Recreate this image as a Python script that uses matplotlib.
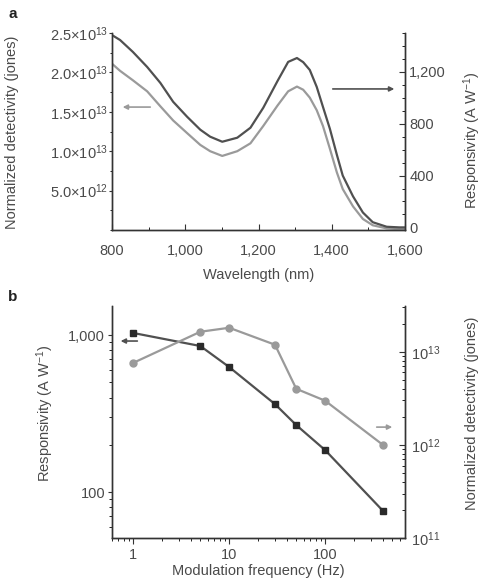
import matplotlib
matplotlib.use("Agg")
import matplotlib.pyplot as plt
from matplotlib.ticker import FixedLocator, MultipleLocator, NullFormatter, LogLocator, FixedFormatter

plt.rcParams['font.family'] = ['Liberation Sans', 'DejaVu Sans']
plt.rcParams['mathtext.fontset'] = 'custom'
plt.rcParams['mathtext.rm'] = 'Liberation Sans'
plt.rcParams['mathtext.it'] = 'Liberation Sans'

# ---- Panel a data ----
wavelength = [800, 822, 857, 896, 932, 967, 1005, 1041, 1068, 1101, 1142, 1178,
              1213, 1252, 1281, 1305, 1322, 1340, 1359, 1376, 1395, 1414, 1430,
              1458, 1485, 1512, 1550, 1586, 1600]
responsivity_a = [1484, 1446, 1354, 1238, 1115, 969, 854, 754, 700, 661, 692, 769,
                  923, 1130, 1277, 1307, 1275, 1215, 1084, 930, 760, 560, 400,
                  240, 115, 40, 5, 0, 0]
detectivity_a = [2.11e13, 2.02e13, 1.90e13, 1.76e13, 1.57e13, 1.39e13, 1.23e13,
                 1.08e13, 1.00e13, 0.94e13, 1.00e13, 1.10e13, 1.32e13, 1.58e13,
                 1.76e13, 1.82e13, 1.78e13, 1.68e13, 1.52e13, 1.32e13, 1.03e13,
                 0.73e13, 0.52e13, 0.30e13, 0.14e13, 0.06e13, 0.02e13, 0.01e13,
                 0.01e13]

# ---- Panel b data ----
frequency = [1, 5, 10, 30, 50, 100, 400]
responsivity_b = [1030, 851, 625, 363, 267, 185, 76]
detectivity_b = [7.6e12, 1.64e13, 1.81e13, 1.19e13, 4.0e12, 2.98e12, 1.0e12]

a_xticks = [800, 1000, 1200, 1400, 1600]
a_xticklabels = ['800', '1,000', '1,200', '1,400', '1,600']
a_lticks = [5e12, 1e13, 1.5e13, 2e13, 2.5e13]
a_lticklabels = [r'5.0$\times$10$^{12}$', r'1.0$\times$10$^{13}$', r'1.5$\times$10$^{13}$',
                 r'2.0$\times$10$^{13}$', r'2.5$\times$10$^{13}$']
a_rticks = [0, 400, 800, 1200]
a_rticklabels = ['0', '400', '800', '1,200']
b_xticks = [1, 10, 100]
b_xticklabels = ['1', '10', '100']
b_lticks = [100, 1000]
b_lticklabels = ['100', '1,000']
b_rticks = [1e11, 1e12, 1e13]
b_rticklabels = [r'10$^{11}$', r'10$^{12}$', r'10$^{13}$']

DARK = '#505050'
LIGHT = '#9a9a9a'
TXT = '#4a4a4a'
SP = '#333333'
FS = 10.5

W, H = 484, 583
fig = plt.figure(figsize=(W/100, H/100), dpi=100)

def style(ax):
    for s in ax.spines.values():
        s.set_color(SP)
        s.set_linewidth(1.0)
    ax.tick_params(colors=SP, labelcolor=TXT, labelsize=FS, width=0.8)

# ---------- Panel a ----------
axa = fig.add_axes([112/W, 1-230/H, 293/W, 197/H])
axa2 = axa.twinx()
axa.plot(wavelength, detectivity_a, color=LIGHT, lw=1.6)
axa2.plot(wavelength, responsivity_a, color=DARK, lw=1.6)
axa.set_xlim(800, 1600)
axa.set_ylim(0, 2.5e13)
axa2.set_ylim(-20, 1500)
for ax in (axa, axa2):
    style(ax)
    ax.spines['top'].set_visible(False)
axa.xaxis.set_major_locator(FixedLocator(a_xticks))
axa.xaxis.set_major_formatter(FixedFormatter(a_xticklabels))
axa.xaxis.set_minor_locator(MultipleLocator(100))
axa.yaxis.set_major_locator(FixedLocator(a_lticks))
axa.yaxis.set_major_formatter(FixedFormatter(a_lticklabels))
axa.yaxis.set_minor_locator(MultipleLocator(2.5e12))
axa2.yaxis.set_major_locator(FixedLocator(a_rticks))
axa2.yaxis.set_major_formatter(FixedFormatter(a_rticklabels))
axa2.yaxis.set_minor_locator(MultipleLocator(100))
axa.tick_params(axis='x', which='both', direction='in', pad=10)
axa.tick_params(axis='x', which='major', length=4)
axa.tick_params(axis='x', which='minor', length=2.5)
axa.tick_params(axis='y', which='major', direction='out', length=2, pad=0.5)
axa.tick_params(axis='y', which='minor', direction='out', length=1.5)
axa2.tick_params(axis='y', which='major', direction='in', length=4, pad=3)
axa2.tick_params(axis='y', which='minor', direction='in', length=2.5)
axa.set_xlabel('Wavelength (nm)', fontsize=FS, color=TXT, labelpad=7)
fig.text(12/W, 1-132/H, 'Normalized detectivity (jones)', rotation=90, fontsize=FS,
         color=TXT, ha='center', va='center')
fig.text(472/W, 1-140/H, r'Responsivity (A W$^{-1}$)', rotation=90, fontsize=FS,
         color=TXT, ha='center', va='center')
axa.annotate('', xy=(0.027, 0.624), xytext=(0.14, 0.624), xycoords='axes fraction',
             arrowprops=dict(arrowstyle='-|>', color=LIGHT, lw=1.2, mutation_scale=7))
axa.annotate('', xy=(0.973, 0.716), xytext=(0.744, 0.716), xycoords='axes fraction',
             arrowprops=dict(arrowstyle='-|>', color=DARK, lw=1.2, mutation_scale=7))
fig.text(13/W, 1-14/H, 'a', fontsize=11, fontweight='bold', color='#222222',
         ha='center', va='center')

# ---------- Panel b ----------
axb = fig.add_axes([112/W, 1-538/H, 293/W, 232/H])
axb2 = axb.twinx()
axb.plot(frequency, responsivity_b, color=DARK, lw=1.6, marker='s', ms=4.5,
         mfc='#2a2a2a', mec='#2a2a2a')
axb2.plot(frequency, detectivity_b, color=LIGHT, lw=1.6, marker='o', ms=5,
          mfc=LIGHT, mec=LIGHT)
for ax in (axb, axb2):
    ax.set_xscale('log')
    ax.set_yscale('log')
    style(ax)
    ax.spines['top'].set_visible(False)
axb.set_xlim(0.6, 680)
axb.set_ylim(51, 1530)
axb2.set_ylim(1e11, 3.1e13)
axb.xaxis.set_major_locator(FixedLocator(b_xticks))
axb.xaxis.set_major_formatter(FixedFormatter(b_xticklabels))
axb.xaxis.set_minor_locator(LogLocator(base=10, subs=range(2, 10)))
axb.xaxis.set_minor_formatter(NullFormatter())
axb.yaxis.set_major_locator(FixedLocator(b_lticks))
axb.yaxis.set_major_formatter(FixedFormatter(b_lticklabels))
axb.yaxis.set_minor_locator(LogLocator(base=10, subs=range(2, 10)))
axb.yaxis.set_minor_formatter(NullFormatter())
axb2.yaxis.set_major_locator(FixedLocator(b_rticks))
axb2.yaxis.set_major_formatter(FixedFormatter(b_rticklabels))
axb2.yaxis.set_minor_locator(LogLocator(base=10, subs=range(2, 10)))
axb2.yaxis.set_minor_formatter(NullFormatter())
axb.tick_params(axis='x', which='major', direction='out', length=4, pad=3)
axb.tick_params(axis='x', which='minor', direction='out', length=2.5)
axb.tick_params(axis='y', which='major', direction='out', length=3, pad=2)
axb.tick_params(axis='y', which='minor', direction='out', length=2)
axb2.tick_params(axis='y', which='major', direction='in', length=4, pad=4)
axb2.tick_params(axis='y', which='minor', direction='in', length=2.5)
axb.set_xlabel('Modulation frequency (Hz)', fontsize=FS, color=TXT, labelpad=2)
fig.text(45/W, 1-413/H, r'Responsivity (A W$^{-1}$)', rotation=90, fontsize=FS,
         color=TXT, ha='center', va='center')
fig.text(472/W, 1-413/H, 'Normalized detectivity (jones)', rotation=90, fontsize=FS,
         color=TXT, ha='center', va='center')
axb.annotate('', xy=(0.02, 0.849), xytext=(0.096, 0.849), xycoords='axes fraction',
             arrowprops=dict(arrowstyle='-|>', color=DARK, lw=1.2, mutation_scale=7))
axb.annotate('', xy=(0.966, 0.478), xytext=(0.894, 0.478), xycoords='axes fraction',
             arrowprops=dict(arrowstyle='-|>', color=LIGHT, lw=1.2, mutation_scale=7))
fig.text(13/W, 1-297/H, 'b', fontsize=11, fontweight='bold', color='#222222',
         ha='center', va='center')

fig.savefig('out.png', dpi=100)
